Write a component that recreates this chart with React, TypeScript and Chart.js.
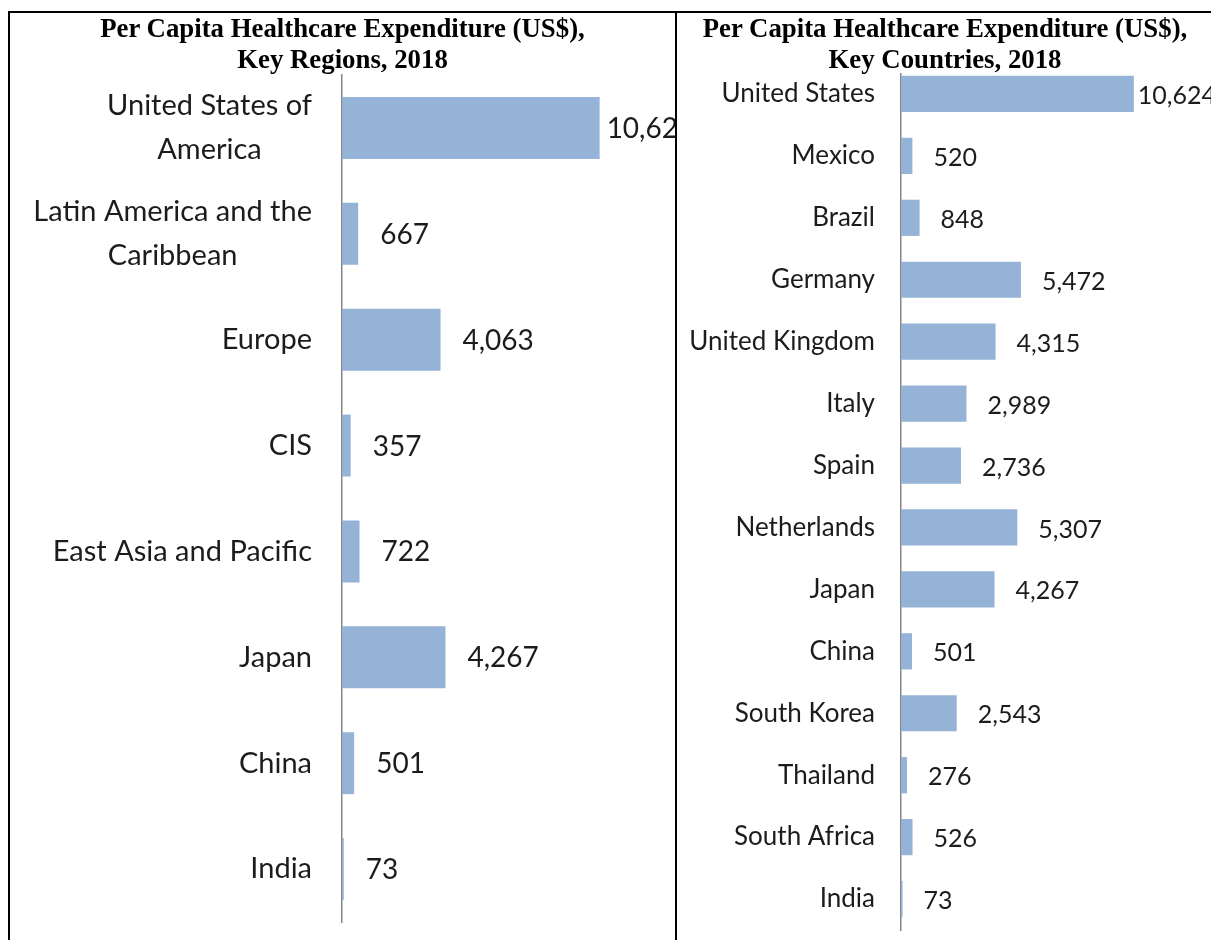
import React, { useEffect, useRef } from "react";
import { Chart, registerables } from "chart.js";

Chart.register(...registerables);

const regionLabels: (string | string[])[] = [
  ["United States of", "America"],
  ["Latin America and the", "Caribbean"],
  "Europe",
  "CIS",
  "East Asia and Pacific",
  "Japan",
  "China",
  "India",
];
const regionValues = [10624, 667, 4063, 357, 722, 4267, 501, 73];

const countryLabels = [
  "United States",
  "Mexico",
  "Brazil",
  "Germany",
  "United Kingdom",
  "Italy",
  "Spain",
  "Netherlands",
  "Japan",
  "China",
  "South Korea",
  "Thailand",
  "South Africa",
  "India",
];
const countryValues = [10624, 520, 848, 5472, 4315, 2989, 2736, 5307, 4267, 501, 2543, 276, 526, 73];

const axisMax = 12000;
const barColor = "#95B3D7";
const axisColor = "#868686";
const textColor = "#1c1c1c";
const labelFamily = "Lato, 'Open Sans', sans-serif";

const labelPlugin = {
  id: "customLabels",
  afterDraw(chart: any, _args: any, opts: any) {
    const { ctx, chartArea } = chart;
    const yScale = chart.scales.y;
    const meta = chart.getDatasetMeta(0);
    const data = chart.data.datasets[0].data as number[];
    ctx.save();
    ctx.fillStyle = textColor;
    ctx.textBaseline = "middle";
    // category labels (multi-line blocks right aligned, lines centred)
    ctx.font = `${opts.tickSize}px ${labelFamily}`;
    ctx.textAlign = "center";
    (chart.data.labels as (string | string[])[]).forEach((lab, i) => {
      const lines = Array.isArray(lab) ? lab : [lab];
      const cy = yScale.getPixelForValue(i);
      const w = Math.max(...lines.map((l) => ctx.measureText(l).width));
      const right = chartArea.left - opts.tickGap;
      lines.forEach((l, j) => {
        ctx.fillText(l, right - w / 2, cy + (j - (lines.length - 1) / 2) * opts.lineHeight);
      });
    });
    // value labels
    ctx.font = `${opts.valueSize}px ${labelFamily}`;
    ctx.textAlign = "left";
    meta.data.forEach((bar: any, i: number) => {
      const v = data[i];
      const gap = v / axisMax > 0.8 ? opts.bigGap : opts.gap;
      ctx.fillText(v.toLocaleString("en-US"), bar.x + gap, bar.y + opts.valueDy);
    });
    ctx.restore();
  },
};

type PanelProps = {
  labels: (string | string[])[];
  values: number[];
  left: number;
  top: number;
  width: number;
  height: number;
  axisLeft: number;
  padding: { top: number; bottom: number; right: number; left: number };
  tickSize: number;
  valueSize: number;
  lineHeight: number;
  tickGap: number;
  gap: number;
  bigGap: number;
  valueDy: number;
};

function BarPanel(p: PanelProps) {
  const ref = useRef<HTMLCanvasElement | null>(null);
  useEffect(() => {
    if (!ref.current) return;
    const chart = new Chart(ref.current, {
      type: "bar",
      data: {
        labels: p.labels as any,
        datasets: [
          {
            data: p.values,
            backgroundColor: barColor,
            borderWidth: 0,
            barPercentage: 0.585,
            categoryPercentage: 1,
          },
        ],
      },
      options: {
        indexAxis: "y",
        responsive: false,
        animation: false,
        devicePixelRatio: 1,
        layout: { padding: p.padding },
        plugins: {
          legend: { display: false },
          tooltip: { enabled: false },
          title: { display: false },
          customLabels: {
            tickSize: p.tickSize,
            valueSize: p.valueSize,
            lineHeight: p.lineHeight,
            tickGap: p.tickGap,
            gap: p.gap,
            bigGap: p.bigGap,
            valueDy: p.valueDy,
          },
        } as any,
        scales: {
          x: { type: "linear", display: false, min: 0, max: axisMax },
          y: {
            type: "category",
            display: true,
            ticks: { display: false },
            grid: { display: false },
            border: { display: true, color: axisColor, width: 1.5 },
            afterFit: (s: any) => {
              s.width = p.axisLeft;
            },
          },
        },
      },
      plugins: [labelPlugin as any],
    });
    return () => chart.destroy();
  }, []);
  return (
    <canvas
      ref={ref}
      width={p.width}
      height={p.height}
      style={{ position: "absolute", left: p.left, top: p.top, width: p.width, height: p.height, display: "block" }}
    />
  );
}

const titleStyle: React.CSSProperties = {
  position: "absolute",
  top: 13,
  textAlign: "center",
  fontFamily: "'Liberation Serif', 'Times New Roman', serif",
  fontWeight: "bold",
  fontSize: 26.8,
  lineHeight: "31px",
  color: "#000",
  whiteSpace: "nowrap",
};

export default function App() {
  return (
    <div
      style={{
        position: "absolute",
        left: 0,
        top: 0,
        width: 1211,
        height: 940,
        overflow: "hidden",
        background: "#fff",
      }}
    >
      <BarPanel
        labels={regionLabels}
        values={regionValues}
        left={10}
        top={60}
        width={665}
        height={880}
        axisLeft={332}
        padding={{ top: 15, bottom: 18, right: 42, left: 0 }}
        tickSize={29}
        valueSize={28}
        lineHeight={44}
        tickGap={30}
        gap={22}
        bigGap={7}
        valueDy={1}
      />
      <BarPanel
        labels={countryLabels}
        values={countryValues}
        left={677}
        top={60}
        width={534}
        height={880}
        axisLeft={224}
        padding={{ top: 3, bottom: 10, right: 47, left: 0 }}
        tickSize={26}
        valueSize={25}
        lineHeight={40}
        tickGap={26}
        gap={21}
        bigGap={4}
        valueDy={2}
      />
      <div style={{ ...titleStyle, left: 10, width: 665, zIndex: 2 }}>
        Per Capita Healthcare Expenditure (US$),
        <br />
        Key Regions, 2018
      </div>
      <div style={{ ...titleStyle, left: 677, width: 536, height: 60, background: "#fff", zIndex: 2 }}>
        Per Capita Healthcare Expenditure (US$),
        <br />
        Key Countries, 2018
      </div>
      <div style={{ position: "absolute", left: 8, top: 11, width: 1210, height: 2, background: "#000", zIndex: 3 }} />
      <div style={{ position: "absolute", left: 8, top: 11, width: 2, height: 935, background: "#000", zIndex: 3 }} />
      <div style={{ position: "absolute", left: 675, top: 11, width: 2, height: 935, background: "#000", zIndex: 3 }} />
    </div>
  );
}
